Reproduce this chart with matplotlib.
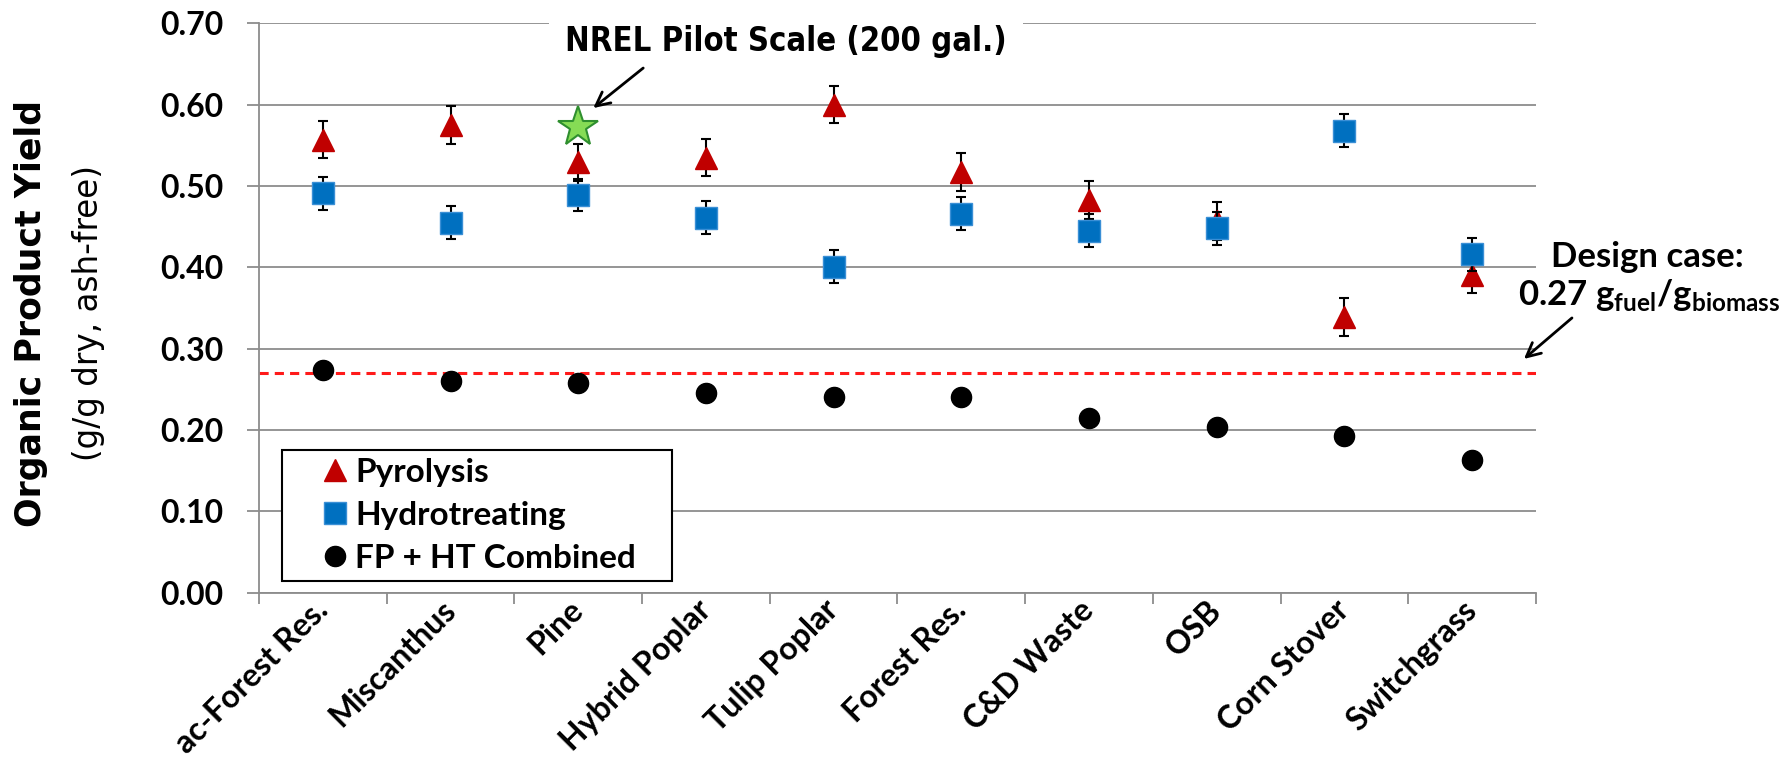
import numpy as np
import matplotlib.pyplot as plt
from matplotlib import font_manager
from matplotlib.lines import Line2D
from matplotlib.patches import Rectangle
from matplotlib.transforms import ScaledTranslation

# Feedstock screening: organic product yield per process step
feedstocks = ["ac-Forest Res.", "Miscanthus", "Pine", "Hybrid Poplar", "Tulip Poplar",
              "Forest Res.", "C&D Waste", "OSB", "Corn Stover", "Switchgrass"]

pyrolysis = [0.557, 0.575, 0.529, 0.535, 0.600, 0.517, 0.483, 0.457, 0.339, 0.391]
pyrolysis_err = [0.023, 0.023, 0.023, 0.023, 0.023, 0.023, 0.023, 0.023, 0.023, 0.023]

hydrotreating = [0.491, 0.455, 0.489, 0.461, 0.401, 0.466, 0.445, 0.448, 0.568, 0.416]
hydrotreating_err = [0.020, 0.020, 0.020, 0.020, 0.020, 0.020, 0.020, 0.020, 0.020, 0.020]

combined = [0.274, 0.260, 0.258, 0.246, 0.240, 0.240, 0.215, 0.204, 0.193, 0.163]

pilot_scale = 0.573       # NREL pilot run on pine
design_case = 0.27        # g fuel / g biomass target

body_font = ["Lato", "DejaVu Sans"]
plt.rcParams["mathtext.fontset"] = "custom"
plt.rcParams["mathtext.rm"] = "Lato:bold"

# a condensed face for the pilot-scale callout, if one is installed
installed = {f.name for f in font_manager.fontManager.ttflist}
narrow_font = next((n for n in ["Liberation Sans Narrow", "Arial Narrow", "DejaVu Sans Condensed"]
                    if n in installed), "DejaVu Sans")

grid_gray = "#8c8c8c"
red, blue = "#C00000", "#0070C0"

fig = plt.figure(figsize=(17.86, 7.74), dpi=100)
ax = fig.add_axes([0.145, 0.2342, 0.715, 0.7357])

x = np.arange(len(feedstocks))

ax.errorbar(x, pyrolysis, yerr=pyrolysis_err, fmt="^", color=red, ms=16,
            ecolor="black", elinewidth=1.5, capsize=3.7, capthick=1.5, zorder=3)
ax.errorbar(x, hydrotreating, yerr=hydrotreating_err, fmt="s", color=blue,
            mec="#3a8fd6", ms=15.5, ecolor="black", elinewidth=1.5, capsize=3.7,
            capthick=1.5, zorder=4)
ax.plot(x, combined, "o", color="black", ms=14.5, zorder=5)

# pilot-scale point on pine
ax.plot(x[2], pilot_scale, "*", ms=30, mfc="#86dc55", mec="#2f8f2f", mew=1.5, zorder=6)

ax.axhline(design_case, color="#ff1a1a", lw=2.2, ls=(0, (3, 2)), zorder=2)

ax.set_xlim(-0.5, len(feedstocks) - 0.5)
ax.set_ylim(0, 0.70)
yticks = np.arange(0, 0.71, 0.10)
ax.set_yticks(yticks)
ax.set_yticklabels([f"{v:.2f}" for v in yticks],
                   fontfamily=body_font, fontweight="bold", fontsize=23)
ax.yaxis.grid(True, color=grid_gray, lw=1.3, zorder=0)
ax.set_axisbelow(True)

# category boundaries as major ticks, names on minor ticks
ax.set_xticks(np.arange(-0.5, len(feedstocks)), labels=[])
ax.set_xticks(x, minor=True)
ax.set_xticklabels(feedstocks, minor=True, rotation=45, ha="right", va="center",
                   rotation_mode="anchor", fontfamily=body_font, fontweight="bold",
                   fontsize=23)
nudge = ScaledTranslation(5 / 72, 0, fig.dpi_scale_trans)
for lbl in ax.get_xticklabels(minor=True):
    lbl.set_transform(lbl.get_transform() + nudge)
ax.tick_params(axis="x", which="minor", length=0, pad=9)
ax.tick_params(axis="x", which="major", length=8, width=1.3, color=grid_gray)
ax.tick_params(axis="y", length=8.6, width=1.3, color=grid_gray, pad=17)

for side in ["top", "right"]:
    ax.spines[side].set_visible(False)
for side in ["left", "bottom"]:
    ax.spines[side].set_color(grid_gray)
    ax.spines[side].set_linewidth(1.3)

fig.text(0.0174, 0.595, "Organic Product Yield", rotation=90, ha="center", va="center",
         fontfamily="DejaVu Sans", fontweight="bold", fontsize=25)
fig.text(0.0498, 0.595, "(g/g dry, ash-free)", rotation=90, ha="center", va="center",
         fontfamily="DejaVu Sans", fontsize=23.5)

# legend: white boxed panel in the lower left
ax.add_patch(Rectangle((0.018, 0.0211), 0.3054, 0.2295, transform=ax.transAxes,
                       fc="white", ec="black", lw=1.5, zorder=2.5))
handles = [
    Line2D([], [], ls="none", marker="^", ms=16, color=red),
    Line2D([], [], ls="none", marker="s", ms=15.5, color=blue, mec="#3a8fd6"),
    Line2D([], [], ls="none", marker="o", ms=14.5, color="black"),
]
labels = ["Pyrolysis", "Hydrotreating", "FP + HT Combined"]
ax.legend(handles, labels, loc="center left", bbox_to_anchor=(0.0462, 0.136),
          borderaxespad=0, borderpad=0, frameon=False, handlelength=1.0,
          handletextpad=0.12, labelspacing=0.42,
          prop={"family": body_font, "weight": "bold", "size": 24})

ax.text(3.625, 0.6654, "NREL Pilot Scale (200 gal.)", ha="center", va="baseline",
        fontfamily=narrow_font, fontstretch="condensed", fontweight="bold",
        fontsize=23.5, bbox=dict(boxstyle="square,pad=0.5", fc="white", ec="none"),
        zorder=7)
ax.annotate("", xy=(2.118, 0.5958), xytext=(2.509, 0.645),
            arrowprops=dict(arrowstyle="->", color="black", lw=2,
                            mutation_scale=25, shrinkA=0, shrinkB=0),
            zorder=7)

ax.text(1.087, 0.4006, "Design case:", transform=ax.get_yaxis_transform(),
        ha="center", va="baseline", fontfamily=body_font, fontweight="bold",
        fontsize=25, bbox=dict(boxstyle="square,pad=0.15", fc="white", ec="none"),
        clip_on=False, zorder=7)
ax.text(1.0885, 0.3539, r"0.27 g$_\mathrm{fuel}$/g$_\mathrm{biomass}$",
        transform=ax.get_yaxis_transform(), ha="center", va="baseline",
        fontfamily=body_font, fontweight="bold", fontsize=25, clip_on=False, zorder=7)
ax.annotate("", xy=(0.9906, 0.2874), xycoords=ax.get_yaxis_transform(),
            xytext=(1.0282, 0.3378), textcoords=ax.get_yaxis_transform(),
            arrowprops=dict(arrowstyle="->", color="black", lw=2,
                            mutation_scale=25, shrinkA=0, shrinkB=0),
            annotation_clip=False, zorder=7)

fig.savefig("out.png", dpi=100)
